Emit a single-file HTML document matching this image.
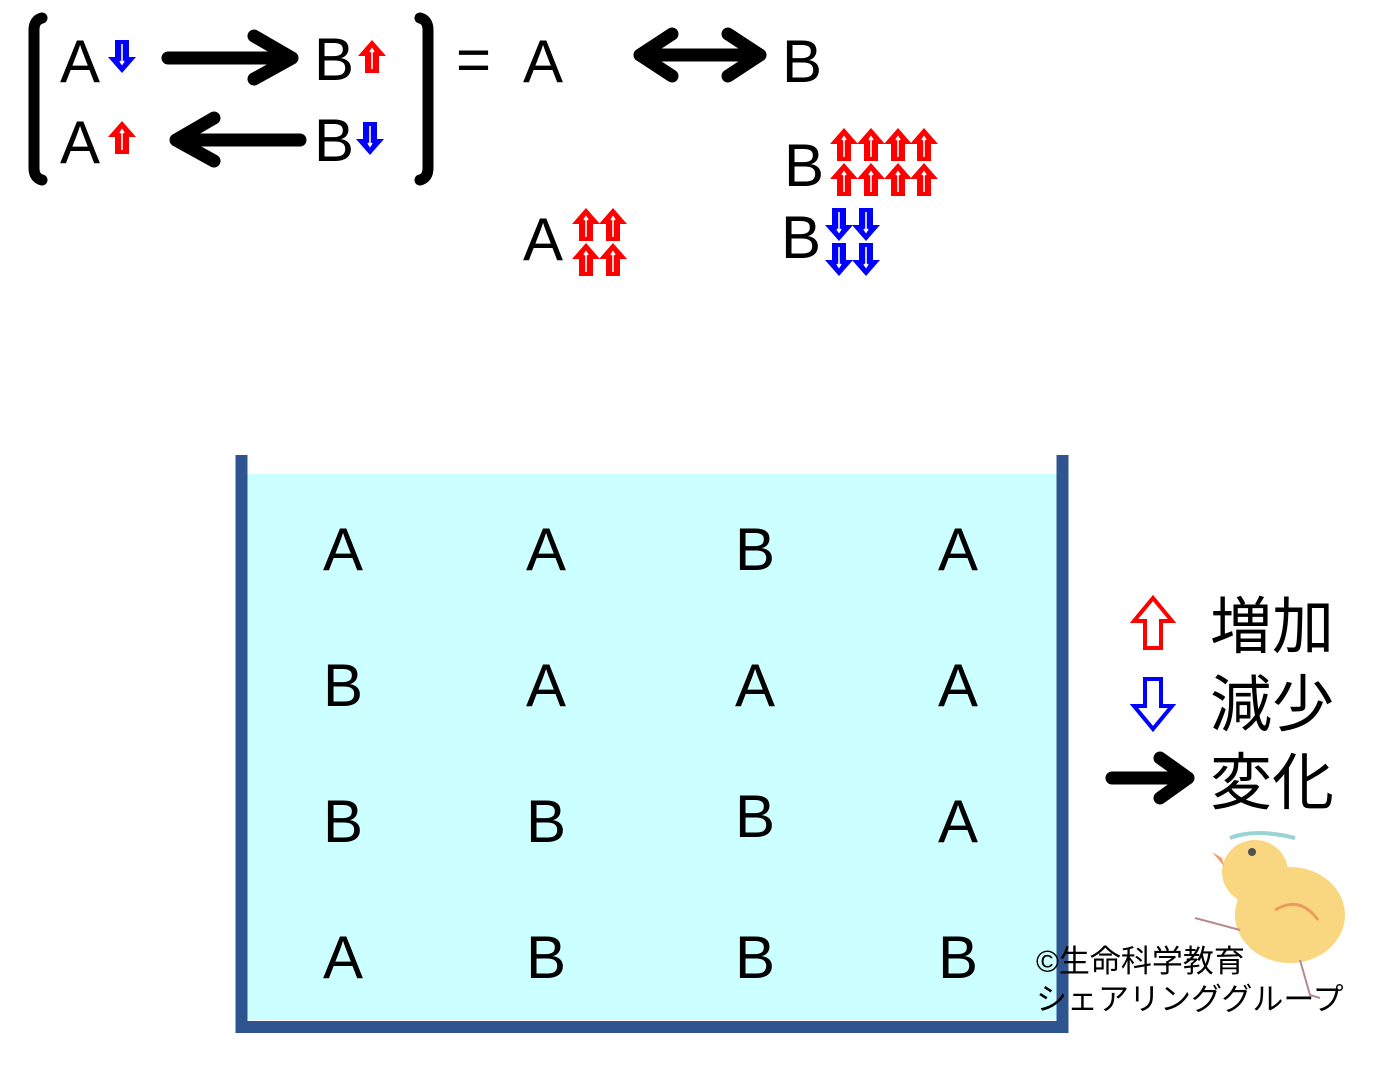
<!DOCTYPE html>
<html><head><meta charset="utf-8"><style>
body{margin:0;background:#fff;}
svg{display:block;}
text{font-family:"Liberation Sans","Noto Sans CJK JP",sans-serif;}
</style></head><body>
<svg width="1399" height="1079" viewBox="0 0 1399 1079" xmlns="http://www.w3.org/2000/svg">
<defs>
<g id="up">
<path d="M13 0 L27 16 L20 16 L20 33 L6 33 L6 16 L-1 16 Z" fill="#ff0000"/>
<path d="M13 9 L13 29 M11 12 L13 9 L15 12" stroke="#fff" stroke-width="1.6" fill="none"/>
</g>
<g id="dn">
<path d="M13 33 L27 17 L20 17 L20 0 L6 0 L6 17 L-1 17 Z" fill="#0000ff"/>
<path d="M13 24 L13 4 M11 21 L13 24 L15 21" stroke="#fff" stroke-width="1.6" fill="none"/>
</g>
</defs>
<!-- brackets -->
<path d="M42 18 Q34 20 34 30 L34 168 Q34 178 42 180" stroke="#000" stroke-width="11" fill="none" stroke-linecap="round"/>
<path d="M420 18 Q428 20 428 30 L428 168 Q428 178 420 180" stroke="#000" stroke-width="11" fill="none" stroke-linecap="round"/>
<g font-size="60" fill="#000">
<text x="60" y="82">A</text><text x="60" y="163">A</text>
<text x="314" y="80">B</text><text x="314" y="161">B</text>
<text x="456" y="80">=</text><text x="523" y="82">A</text><text x="782" y="82">B</text>
<text x="784" y="186">B</text><text x="523" y="260">A</text><text x="781" y="258">B</text>
</g>
<use href="#dn" x="109" y="40"/>
<use href="#up" x="359" y="40"/>
<use href="#up" x="109" y="121"/>
<use href="#dn" x="357" y="122"/>
<!-- arrows -->
<g stroke="#000" stroke-width="13" fill="none" stroke-linecap="round" stroke-linejoin="round">
<path d="M168 58 L292 58 M254 36 L292 58 L254 79"/>
<path d="M300 140 L176 140 M214 118 L176 140 L214 161"/>
<path d="M640 55 L760 55 M672 34 L640 55 L672 76 M728 34 L760 55 L728 76"/>
<path d="M1112 778 L1188 778 M1160 758 L1188 778 L1160 798"/>
</g>
<g>
<use href="#up" x="831" y="128"/><use href="#up" x="858" y="128"/><use href="#up" x="885" y="128"/><use href="#up" x="911" y="128"/>
<use href="#up" x="831" y="163"/><use href="#up" x="858" y="163"/><use href="#up" x="885" y="163"/><use href="#up" x="911" y="163"/>
<use href="#up" x="573" y="208"/><use href="#up" x="600" y="208"/>
<use href="#up" x="573" y="243"/><use href="#up" x="600" y="243"/>
<use href="#dn" x="826" y="208"/><use href="#dn" x="853" y="208"/>
<use href="#dn" x="826" y="243"/><use href="#dn" x="853" y="243"/>
</g>
<!-- container -->
<rect x="247" y="474" width="810" height="546" fill="#ccffff"/>
<path d="M241.5 455 L241.5 1027 L1062.5 1027 L1062.5 455" stroke="#2f5590" stroke-width="12" fill="none"/>
<g font-size="60" fill="#000" text-anchor="middle">
<text x="343" y="570">A</text><text x="546" y="570">A</text><text x="755" y="570">B</text><text x="958" y="570">A</text>
<text x="343" y="706">B</text><text x="546" y="706">A</text><text x="755" y="706">A</text><text x="958" y="706">A</text>
<text x="343" y="842">B</text><text x="546" y="842">B</text><text x="755" y="837">B</text><text x="958" y="842">A</text>
<text x="343" y="978">A</text><text x="546" y="978">B</text><text x="755" y="978">B</text><text x="958" y="978">B</text>
</g>
<!-- legend -->
<path d="M1153 598 L1172 621 L1161 621 L1161 648 L1145 648 L1145 621 L1134 621 Z" fill="none" stroke="#ff0000" stroke-width="4"/>
<path d="M1153 729 L1172 706 L1161 706 L1161 679 L1145 679 L1145 706 L1134 706 Z" fill="none" stroke="#0000ff" stroke-width="4"/>
<g font-size="62" fill="#000">
<text x="1210" y="648">増加</text><text x="1210" y="726">減少</text><text x="1210" y="804">変化</text>
</g>
<!-- chick -->
<g opacity="0.85">
<ellipse cx="1290" cy="915" rx="55" ry="48" fill="#f9cf6a"/>
<ellipse cx="1255" cy="872" rx="33" ry="32" fill="#f9cf6a"/>
<path d="M1222 858 L1212 852 L1224 866 Z" fill="#f08a50"/>
<circle cx="1252" cy="852" r="4" fill="#333"/>
<path d="M1230 838 Q1255 828 1295 838" stroke="#8cc" stroke-width="4" fill="none"/>
<path d="M1275 910 Q1300 895 1318 920" stroke="#e88a40" stroke-width="3" fill="none"/>
<path d="M1240 930 L1195 918 M1300 960 L1310 995 L1320 998" stroke="#a77" stroke-width="2" fill="none"/>
</g>
<g font-size="31" fill="#000">
<text x="1036" y="972">©生命科学教育</text>
<text x="1036" y="1010">シェアリンググループ</text>
</g>
</svg>
</body></html>
